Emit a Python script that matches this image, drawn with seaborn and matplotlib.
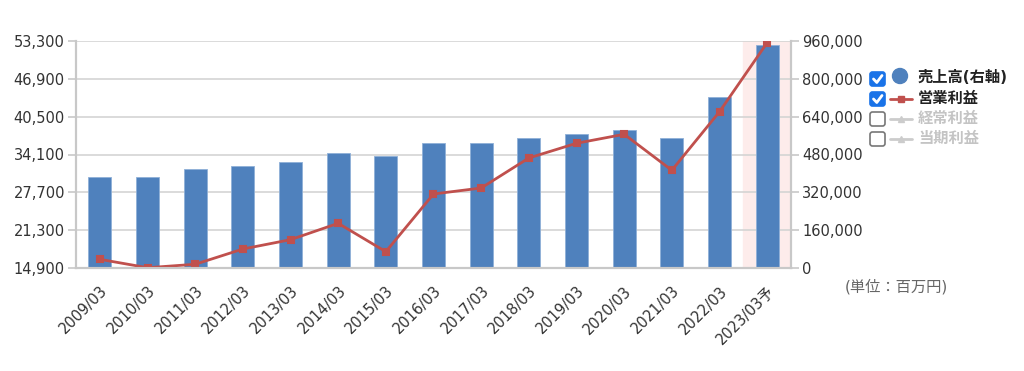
import numpy as np
import pandas as pd
import seaborn as sns
import matplotlib.pyplot as plt
from matplotlib.patches import FancyBboxPatch, Circle
from matplotlib.ticker import FuncFormatter

# data
years = ['2009/03', '2010/03', '2011/03', '2012/03', '2013/03', '2014/03', '2015/03',
         '2016/03', '2017/03', '2018/03', '2019/03', '2020/03', '2021/03', '2022/03', '2023/03予']
sales = [383600, 383600, 417400, 430100, 447000, 487600, 474900,
         527400, 527400, 549800, 568000, 584900, 549800, 721900, 941800]   # 売上高 (右軸)
op_profit = [16370, 14950, 15530, 18110, 19690, 22460, 17660,
             27420, 28430, 33510, 36000, 37520, 31430, 41340, 53010]      # 営業利益 (左軸)
left_ticks = [14900, 21300, 27700, 34100, 40500, 46900, 53300]
right_ticks = [0, 160000, 320000, 480000, 640000, 800000, 960000]

df = pd.DataFrame({'year': years, 'sales': sales, 'op': op_profit})

sns.set_style('white')
plt.rcParams['font.family'] = ['DejaVu Sans', 'Noto Sans CJK JP']

BLUE = '#4f81bd'
RED = '#c0504d'
GRID = '#d4d4d4'
TXT = '#333333'

fig = plt.figure(figsize=(10.24, 3.71), dpi=100)
ax = fig.add_axes([76/1024, 1-268/371, (791-76)/1024, (268-41)/371])

# forecast band
ax.axvspan(len(years)-1.5, len(years)-0.5, color='#fdeceb', zorder=0)

# bars -> right axis scale
sns.barplot(data=df, x='year', y='sales', color=BLUE, width=0.48, saturation=1,
            edgecolor='#8fb0d8', linewidth=0.6, ax=ax, zorder=2)
ax.set_ylim(0, 960000)
ax.set_yticks(right_ticks)
ax.yaxis.set_major_formatter(FuncFormatter(lambda v, p: f'{int(v):,}'))
ax.set_xlim(-0.5, len(years)-0.5)
ax.set_xlabel('')
ax.set_ylabel('')
ax.grid(axis='y', color=GRID, linewidth=1.2, zorder=1)
ax.set_axisbelow(True)

# line -> left axis scale
ax2 = ax.twinx()
sns.pointplot(data=df, x='year', y='op', color=RED, markers='s', markersize=4,
              linewidth=2, ax=ax2)
ax2.set_ylim(14900, 53300)
ax2.set_yticks(left_ticks)
ax2.yaxis.set_major_formatter(FuncFormatter(lambda v, p: f'{int(v):,}'))
ax2.set_xlim(-0.5, len(years)-0.5)
ax2.set_xlabel('')
ax2.set_ylabel('')

# swap sides: sales on the right, profit on the left
ax.yaxis.tick_right()
ax2.yaxis.tick_left()

for a in (ax, ax2):
    for s in ['left', 'right', 'bottom']:
        a.spines[s].set_color('#c8c8c8')
        a.spines[s].set_linewidth(1.5)
    a.spines['top'].set_visible(False)
    a.tick_params(axis='y', length=6, width=1.2, color='#c8c8c8', labelsize=10.5,
                  labelcolor=TXT, pad=2)

ax.set_xticks(range(len(years)))
ax.set_xticklabels(years, rotation=45, ha='right', rotation_mode='anchor',
                   fontsize=10.5, color=TXT)
ax.set_xticks(np.arange(0.5, len(years)-1, 1), minor=True)
ax.tick_params(axis='x', which='major', length=0, pad=11)
ax.tick_params(axis='x', which='minor', direction='in', length=7, width=1.2, color='#c8c8c8')
ax2.tick_params(axis='x', length=0, labelbottom=False)

# legend drawn in pixel coordinates
lg = fig.add_axes([0, 0, 1, 1])
lg.set_xlim(0, 1024)
lg.set_ylim(371, 0)
lg.axis('off')
lg.patch.set_alpha(0)

entries = [('売上高(右軸)', True, 'bar'), ('営業利益', True, 'line'),
           ('経常利益', False, 'gray'), ('当期利益', False, 'gray')]
for i, (name, checked, kind) in enumerate(entries):
    y = 79 + i*20
    box = FancyBboxPatch((870, y-7), 15, 14, boxstyle='round,pad=0,rounding_size=2.5',
                         facecolor='#1a73e8' if checked else 'white',
                         edgecolor='#1a73e8' if checked else '#777777', linewidth=1.2)
    lg.add_patch(box)
    if checked:
        lg.plot([873.5, 876.8, 882], [y, y+3.5, y-3.5], color='white', linewidth=2,
                solid_capstyle='round', solid_joinstyle='round')
    if kind == 'bar':
        lg.add_patch(Circle((900, y-3), 7.5, color=BLUE))
        col = '#222222'
    elif kind == 'line':
        lg.plot([890, 912], [y, y], color=RED, linewidth=2)
        lg.plot([901], [y], marker='s', color=RED, markersize=4)
        col = '#222222'
    else:
        lg.plot([890, 912], [y, y], color='#cccccc', linewidth=2)
        lg.plot([901], [y], marker='^', color='#cccccc', markersize=4)
        col = '#c4c4c4'
    lg.text(918, y - 1, name, fontsize=11, fontweight='bold', color=col,
            ha='left', va='center')

lg.text(845, 287, '(単位：百万円)', fontsize=11, color='#666666', ha='left', va='center')

fig.savefig('out.png', dpi=100)
